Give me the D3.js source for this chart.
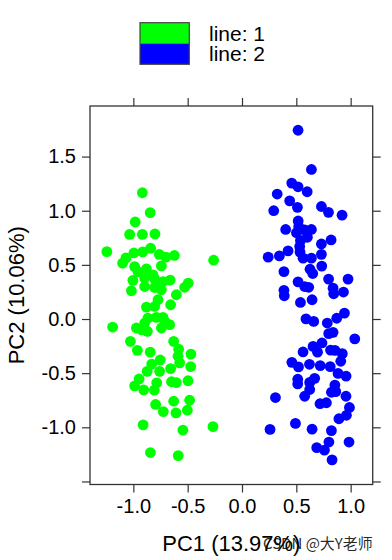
<!DOCTYPE html>
<html>
<head>
	<meta charset="utf-8">
	<title>PCA</title>
	<script src="https://cdnjs.cloudflare.com/ajax/libs/d3/7.8.5/d3.min.js"></script>
	<style>
		body { margin: 0; background: #fff; }
		text { font-family: "Liberation Sans", Arial, sans-serif; fill: #000; }
	</style>
</head>
<body>
	<svg id="chart" width="392" height="560"></svg>
	<script>
		// groups + colours
		const groups = ["line: 1", "line: 2"];
		const colors = ["#00ff00", "#0000ff"];

		// PC scores, group 1
		const pc1_g1 = [-0.917,-0.845,-0.983,-1.034,-0.917,-0.801,-1.244,-0.261,-0.841,-0.914,
			-0.995,-1.068,-1.099,-0.762,-0.700,-0.622,-0.742,-0.988,-0.880,-0.958,
			-0.820,-1.004,-0.896,-0.804,-0.727,-0.661,-0.495,-0.528,-1.018,-0.896,
			-0.804,-0.742,-0.604,-0.773,-0.657,-0.880,-0.804,-0.866,-0.788,-0.727,
			-0.712,-0.666,-0.896,-1.191,-0.972,-0.926,-0.871,-0.742,-1.027,-0.629,
			-0.963,-0.845,-0.583,-0.589,-0.470,-0.472,-0.753,-0.831,-0.657,-0.873,
			-0.574,-0.758,-0.947,-0.988,-0.905,-0.807,-0.785,-0.649,-0.604,-0.497,
			-0.795,-0.724,-0.629,-0.608,-0.482,-0.503,-0.910,-0.544,-0.267,-0.843,-0.587];
		const pc2_g1 = [1.166,0.982,0.896,0.781,0.781,0.785,0.622,0.543,0.654,0.620,
			0.610,0.564,0.516,0.597,0.572,0.587,0.491,0.484,0.463,0.438,
			0.408,0.357,0.378,0.371,0.346,0.360,0.331,0.293,0.261,0.300,
			0.291,0.270,0.224,0.178,0.132,0.110,0.116,0.009,0.015,0.015,
			-0.022,-0.052,-0.037,-0.074,-0.083,-0.099,-0.114,-0.083,-0.206,-0.206,
			-0.289,-0.306,-0.278,-0.344,-0.324,-0.439,-0.378,-0.416,-0.458,-0.483,
			-0.405,-0.483,-0.554,-0.617,-0.654,-0.656,-0.589,-0.579,-0.587,-0.570,
			-0.789,-0.855,-0.759,-0.866,-0.750,-0.842,-0.978,-1.026,-0.994,-1.233,-1.261];

		// group 2
		const pc1_g2 = [0.516,0.639,0.458,0.516,0.600,0.324,0.439,0.510,0.731,0.796,
			0.921,0.292,0.517,0.522,0.402,0.639,0.501,0.577,0.602,0.538,
			0.820,0.731,0.531,0.241,0.344,0.424,0.534,0.731,0.639,0.562,
			0.734,0.386,0.626,0.651,0.797,0.976,0.516,0.577,0.614,0.386,
			0.389,0.838,0.844,0.934,0.538,0.645,0.589,0.660,0.785,0.872,
			0.943,0.798,0.838,1.038,0.654,0.736,0.562,0.695,0.815,0.856,
			0.923,0.909,0.459,0.520,0.621,0.720,0.812,0.884,0.958,0.513,
			0.513,0.623,0.669,0.855,0.863,0.823,0.957,0.308,0.577,0.623,
			0.718,0.777,0.989,0.961,0.892,0.258,0.492,0.645,0.823,0.800,
			0.985,0.688,0.759,0.829];
		const pc2_g2 = [1.743,1.381,1.255,1.221,1.175,1.154,1.091,1.031,1.039,0.985,
			0.959,1.000,0.905,0.853,0.827,0.827,0.797,0.822,0.755,0.726,
			0.730,0.693,0.669,0.571,0.583,0.629,0.618,0.597,0.562,0.562,
			0.489,0.438,0.460,0.420,0.369,0.369,0.343,0.300,0.293,0.265,
			0.215,0.285,0.233,0.249,0.153,0.178,0.001,-0.022,-0.037,0.007,
			0.055,-0.135,-0.123,-0.183,-0.253,-0.221,-0.304,-0.306,-0.287,-0.289,
			-0.320,-0.390,-0.400,-0.442,-0.418,-0.430,-0.439,-0.502,-0.527,-0.556,
			-0.599,-0.585,-0.548,-0.610,-0.671,-0.676,-0.713,-0.725,-0.713,-0.651,
			-0.782,-0.773,-0.817,-0.889,-0.921,-1.019,-0.964,-1.017,-1.030,-1.136,
			-1.136,-1.188,-1.211,-1.300];

		const xTicks = [-1.0, -0.5, 0.0, 0.5, 1.0];
		const yTicks = [-1.5, -1.0, -0.5, 0.0, 0.5, 1.0, 1.5];
		const yLabelled = [-1.0, -0.5, 0.0, 0.5, 1.0, 1.5];
		const xTitle = "PC1 (13.97%)";
		const yTitle = "PC2 (10.06%)";

		const svg = d3.select("#chart");
		const pLeft = 90, pRight = 372.7, pTop = 106, pBottom = 484.5;

		const x = d3.scaleLinear().domain([-1.399, 1.203]).range([pLeft, pRight]);
		const y = d3.scaleLinear().domain([-1.528, 1.967]).range([pBottom, pTop]);
		const fmt = d => d.toFixed(1);

		// lattice style: ticks on all four sides, labels only bottom/left
		function drawAxis(axis, tx, ty) {
			const g = svg.append("g").attr("transform", `translate(${tx},${ty})`).call(axis);
			g.select(".domain").remove();
			g.selectAll(".tick line").attr("stroke", "#333").attr("stroke-width", 1.2);
			g.selectAll(".tick text").style("font-size", "20px").attr("fill", "#000");
			return g;
		}
		drawAxis(d3.axisBottom(x).tickValues(xTicks).tickSize(8).tickPadding(6).tickFormat(fmt), 0, pBottom);
		drawAxis(d3.axisTop(x).tickValues(xTicks).tickSize(8).tickFormat(""), 0, pTop);
		drawAxis(d3.axisLeft(y).tickValues(yTicks).tickSize(8).tickPadding(6)
			.tickFormat(d => yLabelled.includes(d) ? fmt(d) : ""), pLeft, 0);
		drawAxis(d3.axisRight(y).tickValues(yTicks).tickSize(8).tickFormat(""), pRight, 0);

		svg.append("rect")
			.attr("x", pLeft).attr("y", pTop)
			.attr("width", pRight - pLeft).attr("height", pBottom - pTop)
			.attr("fill", "none").attr("stroke", "#333").attr("stroke-width", 1.3);

		const sets = [
			pc1_g1.map((v, i) => ({ x: v, y: pc2_g1[i], g: 0 })),
			pc1_g2.map((v, i) => ({ x: v, y: pc2_g2[i], g: 1 }))
		];
		sets.forEach(pts => {
			svg.append("g").selectAll("circle")
				.data(pts).join("circle")
				.attr("cx", d => x(d.x))
				.attr("cy", d => y(d.y))
				.attr("r", 5.4)
				.attr("fill", d => colors[d.g]);
		});

		// axis titles
		svg.append("text")
			.attr("x", (pLeft + pRight) / 2).attr("y", 551)
			.attr("text-anchor", "middle").style("font-size", "22px")
			.text(xTitle);
		svg.append("text")
			.attr("transform", `translate(24,${(pTop + pBottom) / 2}) rotate(-90)`)
			.attr("text-anchor", "middle").style("font-size", "22px")
			.text(yTitle);

		// legend (stacked colour blocks like lattice auto.key)
		const leg = svg.append("g");
		const keyY = d3.scaleBand().domain(groups).range([22.7, 64.3]);
		leg.selectAll("rect").data(groups).join("rect")
			.attr("x", 140).attr("y", d => keyY(d))
			.attr("width", 49.3).attr("height", keyY.bandwidth())
			.attr("fill", (d, i) => colors[i]);
		leg.append("rect")
			.attr("x", 140).attr("y", 22.7).attr("width", 49.3).attr("height", 64.3 - 22.7)
			.attr("fill", "none").attr("stroke", "#444").attr("stroke-width", 1.2);
		leg.selectAll("text").data(groups).join("text")
			.attr("x", 209).attr("y", d => keyY(d) + keyY.bandwidth() / 2 + 7.5)
			.style("font-size", "21px")
			.text(d => d);

		// watermark
		svg.append("text")
			.attr("x", 263).attr("y", 549)
			.style("font-size", "15px")
			.style("font-family", "'Noto Sans CJK SC', sans-serif")
			.attr("fill", "#bdbdbd").attr("fill-opacity", 0.85)
			.text("CSDN @大Y老师");
	</script>
</body>
</html>
